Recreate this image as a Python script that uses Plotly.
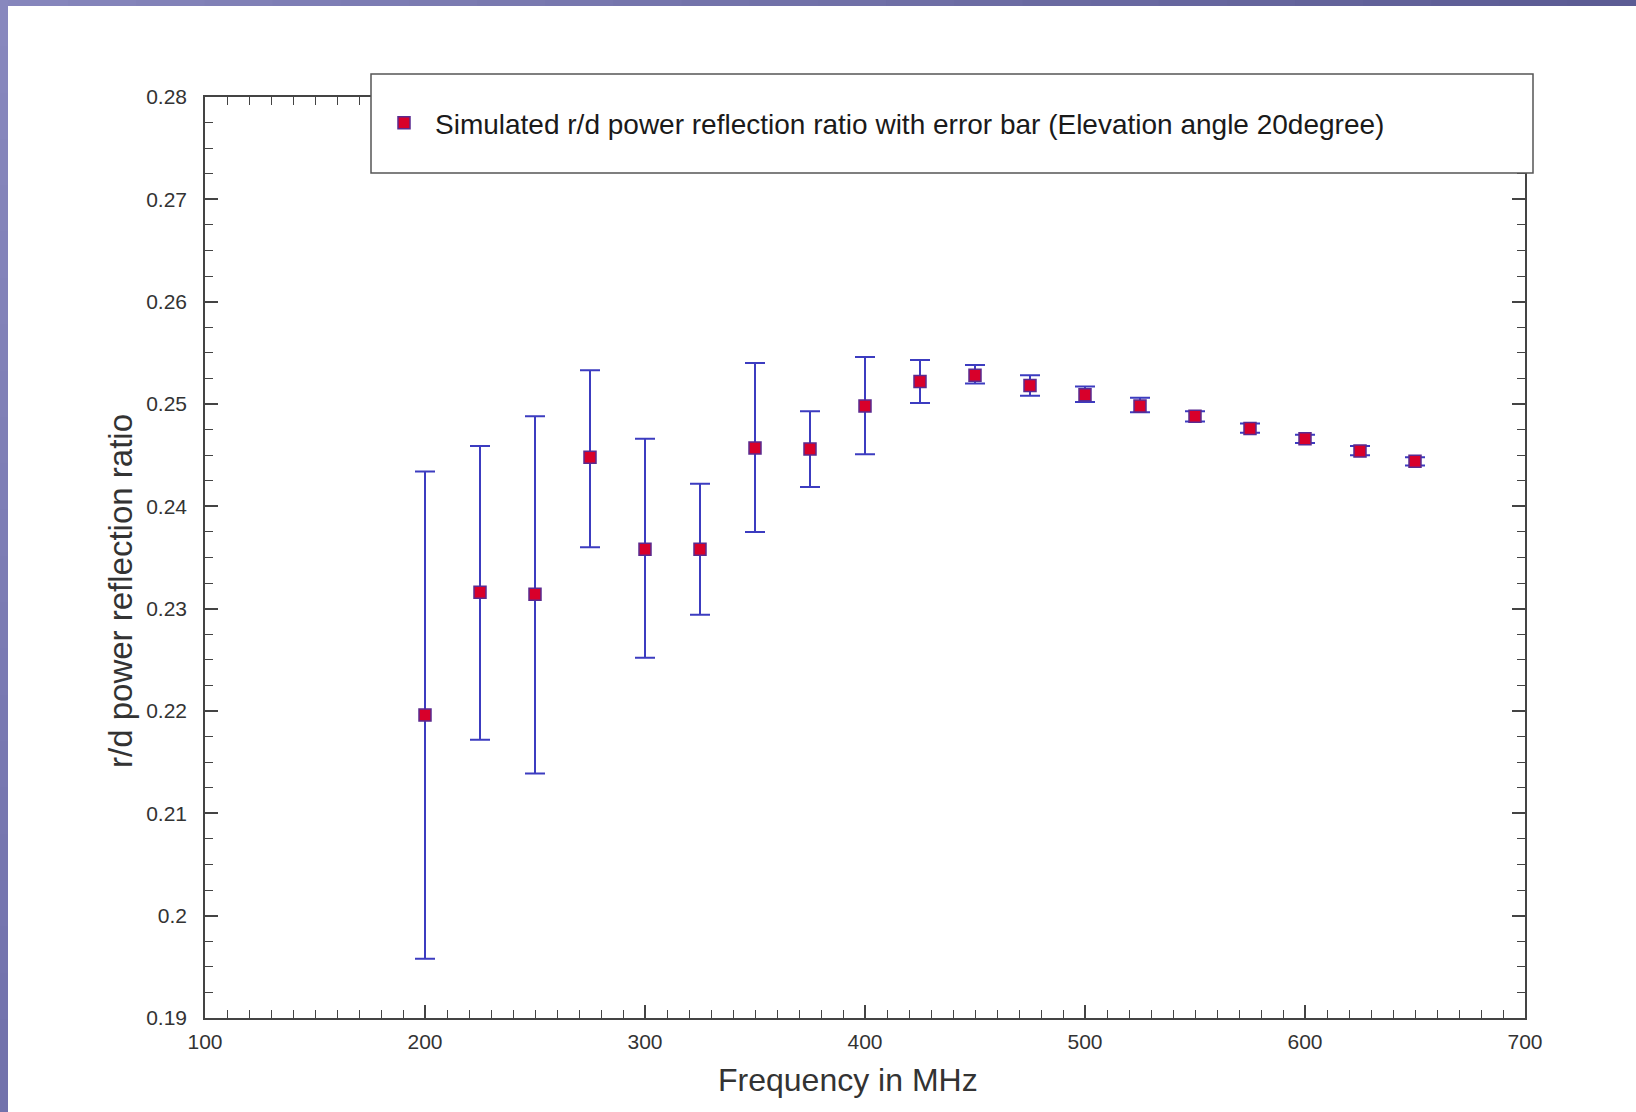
import plotly.graph_objects as go

# Frequency sweep (MHz) and simulated r/d power reflection ratio
freq_mhz = [200, 225, 250, 275, 300, 325, 350, 375, 400, 425,
            450, 475, 500, 525, 550, 575, 600, 625, 650]
ratio = [0.2196, 0.2316, 0.2314, 0.2448, 0.2358, 0.2358, 0.2457, 0.2456, 0.2498, 0.2522,
         0.2528, 0.2518, 0.2509, 0.2498, 0.2488, 0.2476, 0.2466, 0.2454, 0.2444]
ratio_upper = [0.2434, 0.2459, 0.2488, 0.2533, 0.2466, 0.2422, 0.2540, 0.2493, 0.2546, 0.2543,
               0.2538, 0.2528, 0.2517, 0.2506, 0.2493, 0.2481, 0.2470, 0.2459, 0.2448]
ratio_lower = [0.1958, 0.2172, 0.2139, 0.2360, 0.2252, 0.2294, 0.2375, 0.2419, 0.2451, 0.2501,
               0.2520, 0.2508, 0.2502, 0.2492, 0.2483, 0.2472, 0.2462, 0.2450, 0.2440]

series_name = "Simulated r/d power reflection ratio with error bar (Elevation angle 20degree)"
x_title = "Frequency in MHz"
y_title = "r/d power reflection ratio"

err_plus = [u - v for u, v in zip(ratio_upper, ratio)]
err_minus = [v - l for v, l in zip(ratio, ratio_lower)]

FONT = "Liberation Sans, Arial, Helvetica, sans-serif"
AXIS_COLOR = "#444444"
TEXT_COLOR = "#333333"

fig = go.Figure()
fig.add_trace(go.Scatter(
    x=freq_mhz, y=ratio, mode="markers", name=series_name,
    marker=dict(symbol="square", size=12, color="#d8002a",
                line=dict(color="#5a2a90", width=1.5)),
    error_y=dict(type="data", symmetric=False, array=err_plus, arrayminus=err_minus,
                 color="#3c3cc0", thickness=2, width=10),
))

L, R, T, B = 205, 111, 97, 94
W, H = 1636, 1112
pw, ph = W - L - R, H - T - B


def px_x(px):
    return (px - L) / pw


def px_y(py):
    return (H - B - py) / ph


axis_common = dict(
    showgrid=False, zeroline=False, showline=True, linecolor=AXIS_COLOR, linewidth=1.5,
    mirror="ticks", ticks="inside", ticklen=13, tickwidth=1.5, tickcolor=AXIS_COLOR,
    tickfont=dict(family=FONT, size=21, color=TEXT_COLOR),
)

fig.update_xaxes(range=[100, 700], dtick=100, tick0=100, ticklabelstandoff=4,
                 minor=dict(dtick=10, ticks="inside", ticklen=8, tickwidth=1.3,
                            tickcolor=AXIS_COLOR, showgrid=False),
                 **axis_common)
fig.update_yaxes(range=[0.19, 0.28], dtick=0.01, tick0=0.19, ticklabelstandoff=12,
                 minor=dict(dtick=0.0025, ticks="inside", ticklen=8, tickwidth=1.3,
                            tickcolor=AXIS_COLOR, showgrid=False),
                 **axis_common)

shapes = []
# legend frame, drawn over the top axis
shapes.append(dict(type="rect", xref="paper", yref="paper", layer="above",
                   x0=px_x(371), x1=px_x(1533), y0=px_y(173), y1=px_y(74),
                   fillcolor="white", line=dict(color="#555555", width=1.5)))

# purple window edge along the top and left
n = 24
for i in range(n):
    t = i / (n - 1)
    r = int(0x86 + (0x5c - 0x86) * t)
    g = int(0x86 + (0x5c - 0x86) * t)
    b = int(0xbc + (0x94 - 0xbc) * t)
    shapes.append(dict(type="rect", xref="paper", yref="paper", layer="above",
                       x0=px_x(W * i / n), x1=px_x(W * (i + 1) / n + 1),
                       y0=px_y(6), y1=px_y(0),
                       fillcolor=f"rgb({r},{g},{b})", line=dict(width=0)))
for i in range(n):
    t = i / (n - 1)
    r = int(0x88 + (0x72 - 0x88) * t)
    g = int(0x88 + (0x72 - 0x88) * t)
    b = int(0xbe + (0xac - 0xbe) * t)
    shapes.append(dict(type="rect", xref="paper", yref="paper", layer="above",
                       x0=px_x(0), x1=px_x(8),
                       y0=px_y(H * (i + 1) / n + 1), y1=px_y(H * i / n),
                       fillcolor=f"rgb({r},{g},{b})", line=dict(width=0)))

annotations = [
    dict(text=x_title, xref="paper", yref="paper", x=px_x(848), y=px_y(1080),
         xanchor="center", yanchor="middle", showarrow=False,
         font=dict(family=FONT, size=32, color=TEXT_COLOR)),
    dict(text=y_title, xref="paper", yref="paper", x=px_x(120), y=px_y(591),
         xanchor="center", yanchor="middle", showarrow=False, textangle=-90,
         font=dict(family=FONT, size=33, color=TEXT_COLOR)),
]

fig.update_layout(
    width=W, height=H,
    margin=dict(l=L, r=R, t=T, b=B, autoexpand=False),
    paper_bgcolor="white", plot_bgcolor="white",
    showlegend=True,
    legend=dict(x=px_x(373), y=px_y(123), xanchor="left", yanchor="middle",
                bgcolor="rgba(0,0,0,0)", borderwidth=0, itemwidth=52,
                font=dict(family=FONT, size=28, color="#1a1a1a")),
    shapes=shapes,
    annotations=annotations,
)

fig.write_html("out.html")
